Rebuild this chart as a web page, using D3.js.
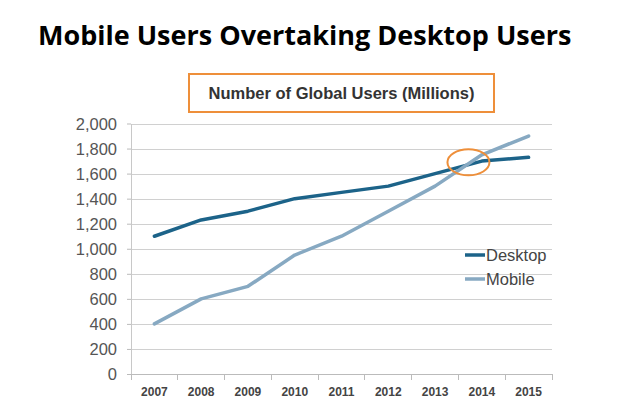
<!DOCTYPE html>
<html lang="en">
<head>
<meta charset="utf-8">
<title>Mobile Users Overtaking Desktop Users</title>
<script src="https://d3js.org/d3.v7.min.js"></script>
<style>
  body { margin: 0; background: #fff; }
  .grid line { stroke: #d0d0d0; stroke-width: 1px; shape-rendering: crispEdges; }
  .grid path { display: none; }
  .yaxis text { font-family: "Liberation Sans", Arial, sans-serif; font-size: 16.5px; fill: #555; }
  .xaxis text { font-family: "Liberation Sans", Arial, sans-serif; font-size: 12px; font-weight: bold; fill: #444; }
  .xaxis path, .xaxis line { stroke: #bbb; shape-rendering: crispEdges; }
</style>
</head>
<body>
<div id="chart"></div>
<script>
// data
var years = ["2007", "2008", "2009", "2010", "2011", "2012", "2013", "2014", "2015"];
var desktop = [1100, 1230, 1300, 1400, 1450, 1500, 1600, 1700, 1730];
var mobile = [400, 600, 700, 950, 1100, 1300, 1500, 1750, 1900];
var yTicks = [0, 200, 400, 600, 800, 1000, 1200, 1400, 1600, 1800, 2000];
var seriesNames = ["Desktop", "Mobile"];
var seriesColors = ["#1c6389", "#87a9c2"];

var w = 630, h = 414;
var plotLeft = 131, plotRight = 552, plotTop = 123.5, plotBottom = 374;

var svg = d3.select("#chart").append("svg")
  .attr("width", w)
  .attr("height", h);

// big title
svg.append("text")
  .attr("x", 38)
  .attr("y", 45)
  .style("font-family", "'Open Sans', sans-serif")
  .style("font-weight", "bold")
  .style("font-size", "27px")
  .style("fill", "#000")
  .text("Mobile Users Overtaking Desktop Users");

var x = d3.scaleBand().domain(years).range([plotLeft, plotRight]);
var y = d3.scaleLinear().domain([0, 2000]).range([plotBottom, plotTop]);

// gridlines
svg.append("g")
  .attr("class", "grid")
  .attr("transform", "translate(" + plotLeft + ",0)")
  .call(d3.axisRight(y).tickValues(yTicks).tickSize(plotRight - plotLeft).tickFormat(""));

// left axis line
svg.append("line")
  .attr("x1", plotLeft).attr("x2", plotLeft)
  .attr("y1", plotTop).attr("y2", plotBottom)
  .style("stroke", "#c8c8c8")
  .style("shape-rendering", "crispEdges");

// y labels
var yAxis = svg.append("g")
  .attr("class", "yaxis")
  .attr("transform", "translate(" + plotLeft + ",0)")
  .call(d3.axisLeft(y).tickValues(yTicks).tickSize(4).tickFormat(d3.format(",")));
yAxis.select(".domain").remove();
yAxis.selectAll("line").style("stroke", "#bbb");
yAxis.selectAll("text").attr("x", -14).attr("dy", "0.35em");

// x axis with ticks at band edges
var xAxis = svg.append("g")
  .attr("class", "xaxis")
  .attr("transform", "translate(0," + plotBottom + ")")
  .call(d3.axisBottom(x).tickSize(0).tickPadding(9));
xAxis.select(".domain").attr("d", "M" + plotLeft + ",0H" + plotRight);
xAxis.selectAll(".edge")
  .data(d3.range(years.length + 1))
  .enter().append("line")
  .attr("x1", function(i) { return plotLeft + i * x.step(); })
  .attr("x2", function(i) { return plotLeft + i * x.step(); })
  .attr("y1", 0).attr("y2", 6)
  .style("stroke", "#bbb");
xAxis.selectAll(".tick text").attr("dy", "1.05em");

// lines
var line = d3.line()
  .x(function(d, i) { return x(years[i]) + x.bandwidth() / 2; })
  .y(function(d) { return y(d); });

[desktop, mobile].forEach(function(s, k) {
  svg.append("path")
    .datum(s)
    .attr("d", line)
    .style("fill", "none")
    .style("stroke", seriesColors[k])
    .style("stroke-width", 3.5)
    .style("stroke-linejoin", "round")
    .style("stroke-linecap", "round");
});

// orange circle on the crossing
svg.append("ellipse")
  .attr("cx", x("2014") + 10)
  .attr("cy", y(1690))
  .attr("rx", 21)
  .attr("ry", 13)
  .style("fill", "none")
  .style("stroke", "#ee8f3a")
  .style("stroke-width", 2);

// boxed subtitle
svg.append("rect")
  .attr("x", 189).attr("y", 74)
  .attr("width", 305).attr("height", 38)
  .style("fill", "#fff")
  .style("stroke", "#ee8f3a")
  .style("stroke-width", 2);
svg.append("text")
  .attr("x", 341.5).attr("y", 99)
  .attr("text-anchor", "middle")
  .style("font-family", "'Liberation Sans', Arial, sans-serif")
  .style("font-weight", "bold")
  .style("font-size", "16.5px")
  .style("fill", "#333")
  .text("Number of Global Users (Millions)");

// legend
var legend = svg.selectAll(".legend")
  .data(seriesNames)
  .enter().append("g")
  .attr("transform", function(d, i) { return "translate(465," + (255 + i * 24) + ")"; });
legend.append("line")
  .attr("x1", 0).attr("x2", 20)
  .style("stroke", function(d, i) { return seriesColors[i]; })
  .style("stroke-width", 3.5);
legend.append("text")
  .attr("x", 21).attr("dy", "0.35em")
  .style("font-family", "'Liberation Sans', Arial, sans-serif")
  .style("font-size", "16.5px")
  .style("fill", "#444")
  .text(function(d) { return d; });
</script>
</body>
</html>
